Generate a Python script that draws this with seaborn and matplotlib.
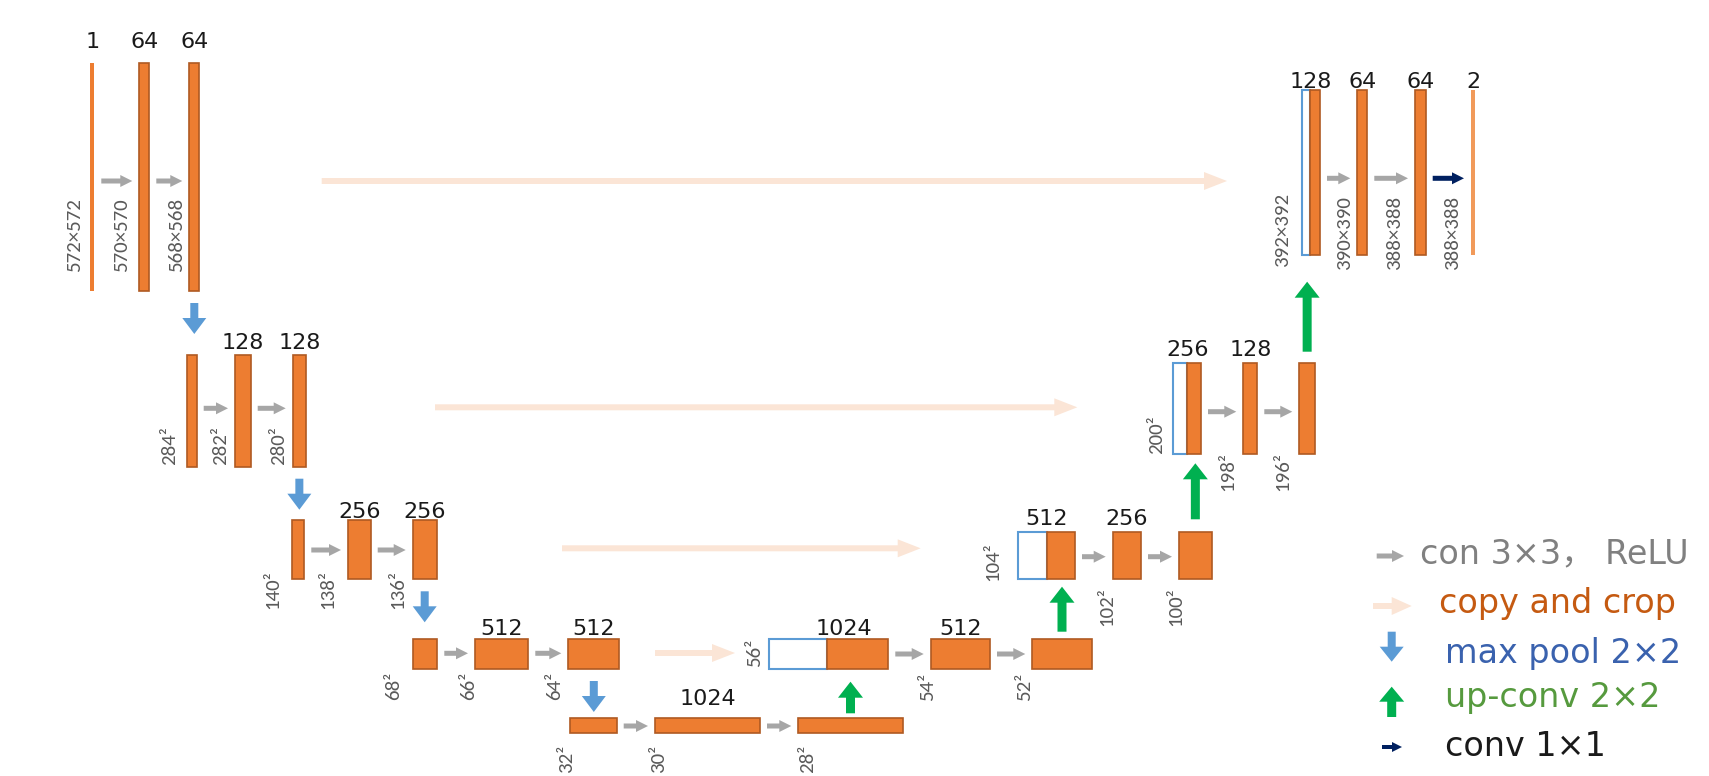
import matplotlib
matplotlib.use("Agg")
import matplotlib.pyplot as plt
import seaborn as sns
from matplotlib.patches import FancyArrow

# ---- chart content ----
enc_channels = [["1", "64", "64"], ["", "128", "128"], ["", "256", "256"],
                ["", "512", "512"], ["", "1024", ""]]
enc_sizes = [["572×572", "570×570", "568×568"], ["284²", "282²", "280²"],
             ["140²", "138²", "136²"], ["68²", "66²", "64²"], ["32²", "30²", "28²"]]
dec_channels = [["128", "64", "64", "2"], ["256", "128", ""], ["512", "256", ""],
                ["1024", "512", ""]]
dec_sizes = [["392×392", "390×390", "388×388", "388×388"], ["200²", "198²", "196²"],
             ["104²", "102²", "100²"], ["56²", "54²", "52²"]]
legend_labels = ["con 3×3， ReLU", "copy and crop", "max pool 2×2", "up-conv 2×2", "conv 1×1"]

# ---- layout (pixel space) ----
enc_x = [[(90, 94.3), (139.3, 149.3), (189.3, 199.3)],
         [(187.3, 196.7), (235, 250.7), (292.7, 306)],
         [(292.3, 304.3), (348, 370.7), (412.7, 436.7)],
         [(412.7, 437.3), (475, 528.3), (568.3, 619.3)],
         [(570, 616.7), (655, 760), (798.3, 902.7)]]
enc_y = [(63, 291), (355, 466.7), (520, 579.3), (639, 669), (717.7, 733.3)]
# first block of each decoder level = copied part (blue) + up-conv part (orange)
dec_x = [[(1301.7, 1310, 1320), (1357.3, 1367.3), (1415, 1425.7), (1471, 1475)],
         [(1173.3, 1186.7, 1201), (1243.3, 1257.3), (1299.3, 1315)],
         [(1018.3, 1046.7, 1075), (1112.7, 1141), (1179, 1211.7)],
         [(769.3, 826.7, 888.3), (930.7, 990), (1032.3, 1091.7)]]
dec_y = [(90, 255), (363, 453.5), (532.3, 579), (639, 669)]

enc_label_y = [40, 341, 510, 627, 697]
dec_label_y = [80, 348, 517, 627]
dec_label_shift = [0, 0, 0, 15]

enc_size_pos = [[(75, 272, "bottom"), (121.7, 272, "bottom"), (176.7, 272, "bottom")],
                [(169.3, 465, "bottom"), (220.7, 465, "bottom"), (278.3, 465, "bottom")],
                [(273, 570, "top"), (328, 570, "top"), (398, 570, "top")],
                [(393.3, 672, "top"), (468.3, 672, "top"), (555, 672, "top")],
                [(567, 745, "top"), (659, 745, "top"), (808, 745, "top")]]
dec_size_pos = [[(1283, 267, "bottom"), (1345, 270, "bottom"), (1395, 270, "bottom"), (1453, 270, "bottom")],
                [(1156.7, 435, "center"), (1228, 452, "top"), (1283, 452, "top")],
                [(993, 562, "center"), (1106.7, 587, "top"), (1176, 587, "top")],
                [(755, 653, "center"), (928, 673, "top"), (1025, 673, "top")]]

enc_conv_y = [181, 408.3, 550, 653.3, 726]
dec_conv_y = [178.3, 411.7, 556.7, 654]
copy_arrows = [(321.7, 1227, 181), (435, 1077.3, 407.3), (562, 920.7, 548.3), (655, 735, 653)]
up_arrows = [(351.7, 281.7), (519.3, 463.3), (631.7, 586.7), (713.3, 681.7)]

legend_x = [1420, 1439, 1445, 1445, 1445]
legend_y = [554, 604, 653, 698, 747]

# ---- styles ----
ORANGE = "#ED7D31"
EDGE = "#AF5A22"
BLUE_BOX = "#5B9BD5"
GRAY = "#A6A6A6"
PEACH = "#FBE5D6"
POOL = "#5B9BD5"
GREEN = "#00B050"
NAVY = "#002060"
legend_colors = ["#808080", "#C55A11", "#3A62AE", "#569A3E", "#1A1A1A"]

sns.set_theme(style="white")
plt.rcParams["font.family"] = ["DejaVu Sans", "Noto Sans CJK SC"]

fig = plt.figure(figsize=(17.09, 7.76), dpi=100)
ax = fig.add_axes([0, 0, 1, 1])
ax.set_xlim(0, 1709)
ax.set_ylim(776, 0)
ax.axis("off")

size_font = dict(family=["Carlito", "DejaVu Sans"], fontsize=15, color="#5A5A5A")
chan_font = dict(fontsize=16, color="#1A1A1A")


def draw_bar(x0, x1, top, bottom, face=ORANGE, edge=EDGE):
    thin = (x1 - x0) < 6
    ax.bar(x0, bottom - top, width=x1 - x0, bottom=top, align="edge",
           color=face, edgecolor=face if thin else edge, linewidth=0 if thin else 1.2)


def arrow_h(x0, x1, y, color, w, hw, hl):
    ax.add_patch(FancyArrow(x0, y, x1 - x0, 0, width=w, head_width=hw, head_length=hl,
                            length_includes_head=True, color=color, lw=0))


def arrow_v(x, y0, y1, color, w, hw, hl):
    ax.add_patch(FancyArrow(x, y0, 0, y1 - y0, width=w, head_width=hw, head_length=hl,
                            length_includes_head=True, color=color, lw=0))


def size_text(pos, label):
    x, y, anchor = pos
    ax.text(x, y, label, rotation=90, ha="center", va=anchor, **size_font)


# encoder
for lvl, bars in enumerate(enc_x):
    top, bottom = enc_y[lvl]
    for i, (x0, x1) in enumerate(bars):
        draw_bar(x0, x1, top, bottom)
        if enc_channels[lvl][i]:
            ax.text((x0 + x1) / 2, enc_label_y[lvl] + 2, enc_channels[lvl][i],
                    ha="center", va="center", **chan_font)
        size_text(enc_size_pos[lvl][i], enc_sizes[lvl][i])
        if i > 0:
            arrow_h(bars[i - 1][1] + 7, x0 - 7, enc_conv_y[lvl], GRAY, 5, 12, 12)
    if lvl < len(enc_x) - 1:
        cx = (bars[-1][0] + bars[-1][1]) / 2
        arrow_v(cx, bottom + 12, bottom + 43, POOL, 8, 24, 16)

# decoder
for lvl, bars in enumerate(dec_x):
    top, bottom = dec_y[lvl]
    for i, b in enumerate(bars):
        if i == 0:
            ax.bar(b[0], bottom - top, width=b[1] - b[0], bottom=top, align="edge",
                   color="white", edgecolor=BLUE_BOX, linewidth=1.5)
            draw_bar(b[1], b[2], top, bottom)
            lx = (b[0] + b[2]) / 2 + dec_label_shift[lvl]
        else:
            last_out = lvl == 0 and i == len(bars) - 1
            draw_bar(b[0], b[1], top, bottom, face="#F19A5A" if last_out else ORANGE)
            lx = (b[0] + b[1]) / 2
            prev_right = bars[i - 1][-1]
            arrow_h(prev_right + 7, b[0] - 7, dec_conv_y[lvl],
                    NAVY if last_out else GRAY, 5, 12, 12)
        if dec_channels[lvl][i]:
            ax.text(lx, dec_label_y[lvl] + 2, dec_channels[lvl][i],
                    ha="center", va="center", **chan_font)
        size_text(dec_size_pos[lvl][i], dec_sizes[lvl][i])

# up-conv arrows (from the last block of the level below)
lower_last = [dec_x[1][-1], dec_x[2][-1], dec_x[3][-1], enc_x[4][-1]]
for (y0, y1), b in zip(up_arrows, lower_last):
    arrow_v((b[0] + b[-1]) / 2, y0, y1, GREEN, 9, 25, 16)

# copy and crop
for x0, x1, y in copy_arrows:
    arrow_h(x0, x1, y, PEACH, 6, 18, 23)

# legend
arrow_h(1376.7, 1404, legend_y[0] + 2, GRAY, 5, 12, 12)
arrow_h(1373, 1411.7, legend_y[1] + 2, PEACH, 6, 18, 20)
arrow_v(1391.7, 631.7, 661.7, POOL, 8, 24, 15)
arrow_v(1391.7, 717, 686.7, GREEN, 9, 25, 15)
arrow_h(1382, 1402, legend_y[4], NAVY, 4, 10, 10)
for x, y, txt, c in zip(legend_x, legend_y, legend_labels, legend_colors):
    ax.text(x, y, txt, ha="left", va="center", fontsize=24, color=c)

fig.savefig("out.png", dpi=100, facecolor="white")
